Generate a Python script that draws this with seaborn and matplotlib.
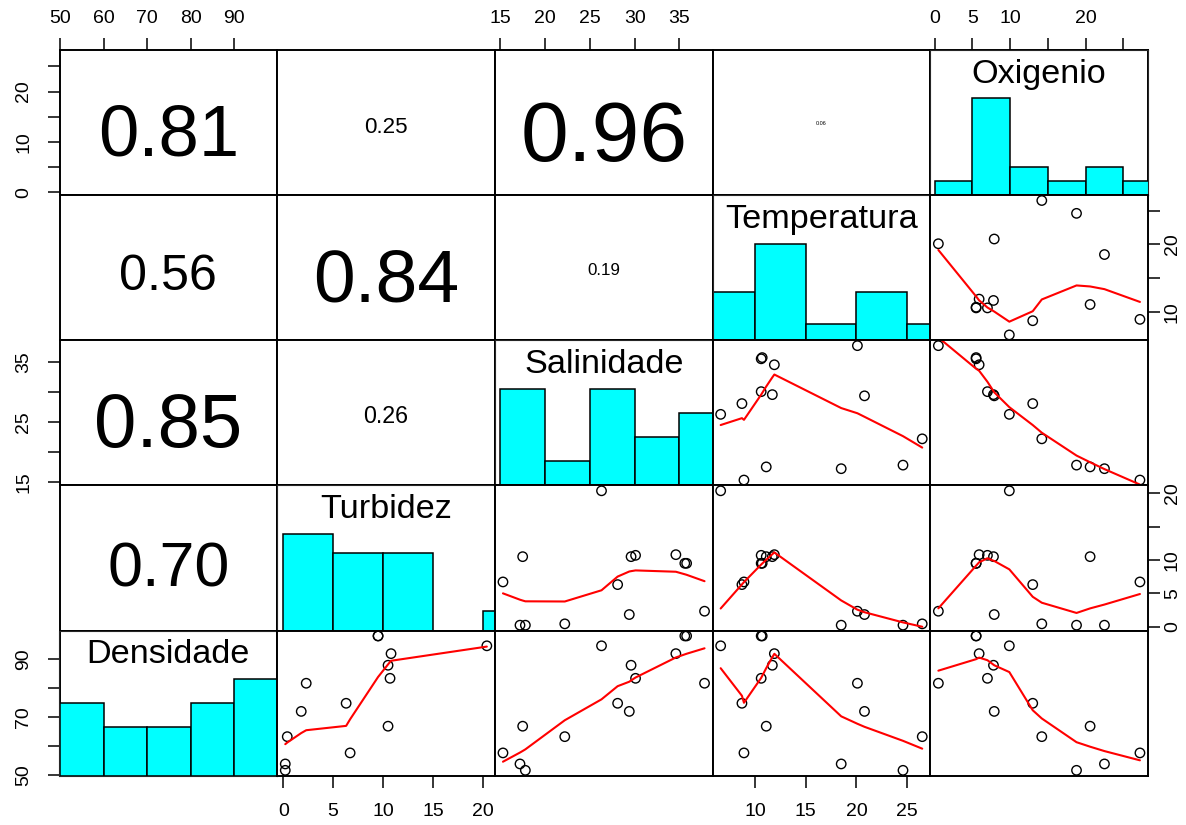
import numpy as np
import matplotlib
matplotlib.use("Agg")
import matplotlib.pyplot as plt
import seaborn as sns

# 14 samples
densidade = [98.0, 98.0, 94.6, 91.9, 87.9, 83.4, 81.7, 74.8, 72.0, 66.9, 63.3, 57.7, 53.9, 51.7]
turbidez = [9.5, 9.5, 20.4, 10.8, 10.5, 10.7, 2.3, 6.3, 1.8, 10.5, 0.4, 6.7, 0.2, 0.2]
salinidade = [35.6, 35.8, 26.3, 34.6, 29.6, 30.1, 37.8, 28.1, 29.4, 17.5, 22.2, 15.3, 17.2, 17.8]
temperatura = [10.6, 10.7, 6.6, 11.9, 11.7, 10.6, 20.1, 8.7, 20.8, 11.1, 26.5, 8.9, 18.5, 24.6]
oxigenio = [5.5, 5.5, 9.9, 5.9, 7.8, 7.0, 0.5, 13.0, 7.9, 20.6, 14.2, 27.2, 22.5, 18.8]

names = ["Densidade", "Turbidez", "Salinidade", "Temperatura", "Oxigenio"]
data = [densidade, turbidez, salinidade, temperatura, oxigenio]

# |r| printed in the upper-left panels: (row variable, column variable)
cor_labels = {
    ("Oxigenio", "Densidade"): 0.81, ("Oxigenio", "Turbidez"): 0.25,
    ("Oxigenio", "Salinidade"): 0.96, ("Oxigenio", "Temperatura"): 0.06,
    ("Temperatura", "Densidade"): 0.56, ("Temperatura", "Turbidez"): 0.84,
    ("Temperatura", "Salinidade"): 0.19,
    ("Salinidade", "Densidade"): 0.85, ("Salinidade", "Turbidez"): 0.26,
    ("Turbidez", "Densidade"): 0.70,
}

# histogram breaks
breaks = [
    [50, 60, 70, 80, 90, 100],
    [0, 5, 10, 15, 20, 25],
    [15, 20, 25, 30, 35, 40],
    [5, 10, 15, 20, 25, 30],
    [0, 5, 10, 15, 20, 25, 30],
]

# tick positions and which ones carry a label (horizontal / vertical axis)
ticks = [
    [50, 60, 70, 80, 90],
    [0, 5, 10, 15, 20],
    [15, 20, 25, 30, 35],
    [10, 15, 20, 25],
    [0, 5, 10, 15, 20, 25],
]
x_labels = [
    [50, 60, 70, 80, 90],
    [0, 5, 10, 15, 20],
    [15, 20, 25, 30, 35],
    [10, 15, 20, 25],
    [0, 5, 10, 20],
]
y_labels = [
    [50, 70, 90],
    [0, 5, 10, 20],
    [15, 25, 35],
    [10, 20],
    [0, 10, 20],
]


def lowess(x, y, f=2 / 3, iters=3):
    # port of R's clowess (without the delta shortcut)
    idx = np.argsort(x, kind="stable")
    x = np.asarray(x, float)[idx]
    y = np.asarray(y, float)[idx]
    n = len(x)
    ns = max(min(int(f * n + 1e-7), n), 2)
    span = x[-1] - x[0]
    rw = np.ones(n)
    fit = np.zeros(n)
    for it in range(iters + 1):
        for i in range(n):
            d = np.abs(x - x[i])
            h = np.sort(d)[ns - 1]
            w = np.zeros(n)
            if h > 0:
                inside = d <= 0.999 * h
                w[inside] = (1 - (d[inside] / h) ** 3) ** 3
                w[d <= 0.001 * h] = 1
            else:
                w[d == 0] = 1
            w = w * rw
            if w.sum() <= 0:
                fit[i] = y[i]
                continue
            w = w / w.sum()
            if h > 0:
                a = np.sum(w * x)
                c = np.sum(w * (x - a) ** 2)
                if np.sqrt(c) > 0.001 * span:
                    b = (x[i] - a) / c
                    w = w * (b * (x - a) + 1)
            fit[i] = np.sum(w * y)
        if it == iters:
            break
        res = np.abs(y - fit)
        cmad = 6 * np.median(res)
        if cmad < 1e-7 * np.mean(np.abs(y)):
            break
        u = res / cmad
        rw = np.where(u <= 0.001, 1.0, np.where(u <= 0.999, (1 - u ** 2) ** 2, 0.0))
    return x, fit


def limits(v):
    lo, hi = min(v), max(v)
    d = hi - lo
    return lo - 0.04 * d, hi + 0.04 * d


sns.set_style("white")
plt.rcParams["font.family"] = ["Liberation Sans", "DejaVu Sans"]
plt.rcParams["text.color"] = "black"

W, H = 1186, 825
fig = plt.figure(figsize=(W / 100, H / 100), dpi=100)

left, right, top, bottom = 59.5, 1148, 50, 775.7
pw = (right - left) / 5
ph = (bottom - top) / 5
px_per_pt = 100 / 72

# diagonal label size: longest name fills 90% of a panel
label_fs = 0.9 * pw / 5.724 / px_per_pt

tick_kw = dict(direction="out", length=8.5, width=1.1, labelsize=14, colors="black")


def labelled(tk, shown):
    return [str(t) if t in shown else "" for t in tk]


for r in range(5):
    yi = 4 - r
    for c in range(5):
        x0 = left + c * pw
        y0 = top + r * ph
        ax = fig.add_axes([x0 / W, 1 - (y0 + ph) / H, pw / W, ph / H])
        xv = np.array(data[c])
        yv = np.array(data[yi])
        ax.set_xticks([])
        ax.set_yticks([])
        ax.set_xlim(limits(xv))
        ax.set_ylim(limits(yv))

        if c == yi:
            # histogram scaled to its tallest bar, drawn on its own 0..1.5 scale
            hax = ax.twinx()
            counts, _ = np.histogram(xv, bins=breaks[c])
            sns.histplot(x=xv, bins=breaks[c], weights=np.full(len(xv), 1 / counts.max()),
                         color="#00FFFF", edgecolor="black", linewidth=1.1, alpha=1, ax=hax)
            hax.set_xlim(limits(xv))
            hax.set_ylim(0, 1.5)
            hax.set_yticks([])
            hax.set_ylabel("")
            hax.set_xlabel("")
            hax.text(0.5, 0.8333, names[c], transform=hax.transAxes, ha="center",
                     va="center", fontsize=label_fs, color="black")
        elif c > yi:
            sns.scatterplot(x=xv, y=yv, ax=ax, s=46, facecolor="none",
                            edgecolor="black", linewidth=1.0)
            lx, ly = lowess(xv, yv)
            ax.plot(lx, ly, color="red", lw=1.5)
            ax.set_xlim(limits(xv))
            ax.set_ylim(limits(yv))
        else:
            rv = cor_labels[(names[yi], names[c])]
            em = 0.8 * pw * rv / 1.946
            ax.text(0.5, 0.5 - 0.45 * em / ph, f"{rv:.2f}", transform=ax.transAxes,
                    ha="center", va="baseline", fontsize=em / px_per_pt, color="black")
        ax.set_xlabel("")
        ax.set_ylabel("")

        for sp in ax.spines.values():
            sp.set_visible(True)
            sp.set_color("black")
            sp.set_linewidth(1.4)

        # outer axes, alternating like R's pairs()
        if r == 0 and c % 2 == 0:
            ax.set_xticks(ticks[c])
            ax.set_xticklabels(labelled(ticks[c], x_labels[c]))
            ax.tick_params(axis="x", top=True, labeltop=True, bottom=False,
                           labelbottom=False, pad=8, **tick_kw)
        if r == 4 and c % 2 == 1:
            ax.set_xticks(ticks[c])
            ax.set_xticklabels(labelled(ticks[c], x_labels[c]))
            ax.tick_params(axis="x", bottom=True, labelbottom=True, pad=11, **tick_kw)
        if c == 0 and r % 2 == 0:
            ax.set_yticks(ticks[yi])
            ax.set_yticklabels(labelled(ticks[yi], y_labels[yi]), rotation=90, va="center")
            ax.tick_params(axis="y", left=True, labelleft=True, pad=11, **tick_kw)
        if c == 4 and r % 2 == 1:
            ax.set_yticks(ticks[yi])
            ax.set_yticklabels(labelled(ticks[yi], y_labels[yi]), rotation=90, va="center")
            ax.tick_params(axis="y", right=True, labelright=True, left=False,
                           labelleft=False, pad=3, **tick_kw)

fig.savefig("out.png", dpi=100)
